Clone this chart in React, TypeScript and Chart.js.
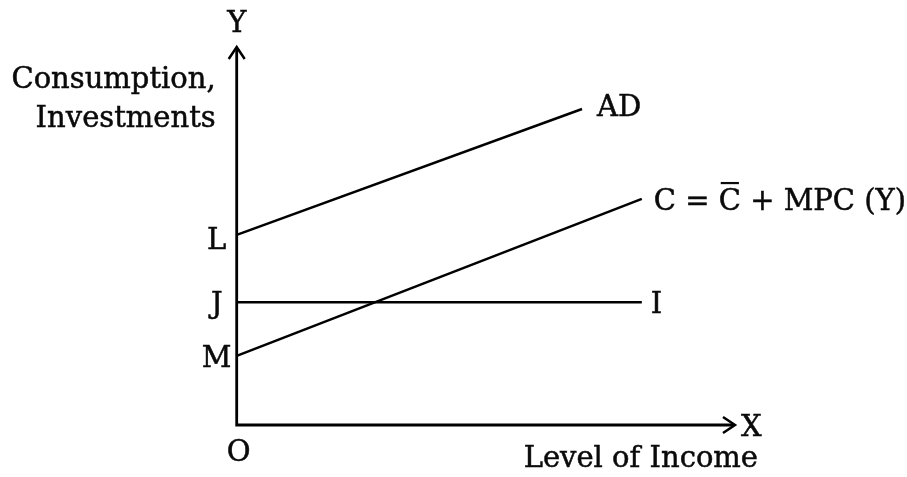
import React, { useEffect, useRef } from "react";
import { Chart, registerables } from "chart.js";

Chart.register(...registerables);

// Values (data units: x 0..100 = level of income, y 0..100 = C + I)
const interceptLabels = ["L", "J", "M"];
const interceptValues = [50.3, 32.5, 18.3];

const adX = [0, 69.3];
const adY = [50.3, 83.6];
const cX = [0, 81.3];
const cY = [18.3, 59.8];
const iX = [0, 81.3];
const iY = [32.5, 32.5];

// consumption label is written in parts so the bar over the second C can be drawn
const cLabelParts = ["C = ", "C", " + MPC (Y)"];
const curveLabels = ["AD", cLabelParts.join(""), "I"];
const yAxisTitle = ["Consumption,", "Investments"];
const xAxisTitle = "Level of Income";
const originLabel = "O";
const yAxisLetter = "Y";
const xAxisLetter = "X";

const FONT = "29px 'DejaVu Serif'";
const INK = "#0a0a0a";

const toPts = (xs: number[], ys: number[]) => xs.map((x, i) => ({ x, y: ys[i] }));

const diagramPlugin = {
  id: "diagram",
  afterDatasetsDraw(chart: any) {
    const { ctx, scales } = chart;
    const xs = scales.x;
    const ys = scales.y;
    const ox = xs.getPixelForValue(0);
    const oy = ys.getPixelForValue(0);
    const xEnd = xs.getPixelForValue(100);
    const yEnd = ys.getPixelForValue(100);

    ctx.save();
    ctx.strokeStyle = "#000";
    ctx.lineWidth = 2.8;
    ctx.lineCap = "butt";
    ctx.lineJoin = "miter";
    // axes
    ctx.beginPath();
    ctx.moveTo(ox, yEnd + 1);
    ctx.lineTo(ox, oy);
    ctx.lineTo(xEnd - 1, oy);
    ctx.stroke();
    // arrowheads (open chevrons)
    ctx.lineWidth = 2.5;
    ctx.beginPath();
    ctx.moveTo(ox - 8, yEnd + 12);
    ctx.lineTo(ox, yEnd);
    ctx.lineTo(ox + 8, yEnd + 12);
    ctx.stroke();
    ctx.beginPath();
    ctx.moveTo(xEnd - 12, oy - 8);
    ctx.lineTo(xEnd, oy);
    ctx.lineTo(xEnd - 12, oy + 8);
    ctx.stroke();

    ctx.fillStyle = INK;
    ctx.strokeStyle = INK;
    ctx.font = FONT;
    ctx.textBaseline = "alphabetic";
    const txt = (s: string, x: number, y: number) => {
      ctx.fillText(s, x, y);
      ctx.lineWidth = 0.5;
      ctx.strokeText(s, x, y);
    };

    // axis letters
    ctx.textAlign = "center";
    txt(yAxisLetter, ox, yEnd - 15);
    txt(originLabel, ox + 2, oy + 36);
    ctx.textAlign = "left";
    txt(xAxisLetter, xEnd + 6, oy + 11);

    // axis titles
    ctx.textAlign = "right";
    txt(yAxisTitle[0], ox - 21, 88);
    txt(yAxisTitle[1], ox - 21, 127);
    txt(xAxisTitle, xEnd + 23, oy + 42);

    // intercept labels
    ctx.textAlign = "center";
    interceptLabels.forEach((lab, i) => {
      const py = ys.getPixelForValue(interceptValues[i]);
      const dy = i === 0 ? 14 : 11;
      txt(lab, ox - 20, py + dy);
    });

    // curve labels
    ctx.textAlign = "left";
    const ends = [
      { x: adX[1], y: adY[1], dx: 15, dy: 7 },
      { x: cX[1], y: cY[1], dx: 12, dy: 11 },
      { x: iX[1], y: iY[1], dx: 9, dy: 11 },
    ];
    ends.forEach((e, i) => {
      const px = xs.getPixelForValue(e.x) + e.dx;
      const py = ys.getPixelForValue(e.y) + e.dy;
      txt(curveLabels[i], px, py);
      if (i === 1) {
        const w0 = ctx.measureText(cLabelParts[0]).width;
        const w1 = ctx.measureText(cLabelParts[1]).width;
        ctx.fillRect(px + w0 + 2, py - 28, w1 - 4, 2.2);
      }
    });
    ctx.restore();
  },
};

export default function App() {
  const ref = useRef<HTMLCanvasElement | null>(null);
  useEffect(() => {
    if (!ref.current) return;
    const lineDs = (label: string, xs: number[], ys: number[]) => ({
      label,
      data: toPts(xs, ys),
      borderColor: "#000",
      borderWidth: 2.5,
      pointRadius: 0,
      showLine: true,
      fill: false,
      tension: 0,
    });
    const chart = new Chart(ref.current, {
      type: "line",
      data: {
        datasets: [
          lineDs("AD", adX, adY),
          lineDs("C", cX, cY),
          lineDs("I", iX, iY),
        ],
      },
      options: {
        animation: false,
        responsive: false,
        layout: { padding: { left: 236.7, right: 172, top: 47, bottom: 52 } },
        plugins: { legend: { display: false }, tooltip: { enabled: false } },
        scales: {
          x: { type: "linear", min: 0, max: 100, display: false },
          y: { type: "linear", min: 0, max: 100, display: false },
        },
        events: [],
      },
      plugins: [diagramPlugin],
    });
    return () => chart.destroy();
  }, []);
  return (
    <div style={{ position: "fixed", left: 0, top: 0, width: 907, height: 477, background: "#fff" }}>
      <canvas ref={ref} width={907} height={477} style={{ display: "block", width: 907, height: 477 }} />
    </div>
  );
}
